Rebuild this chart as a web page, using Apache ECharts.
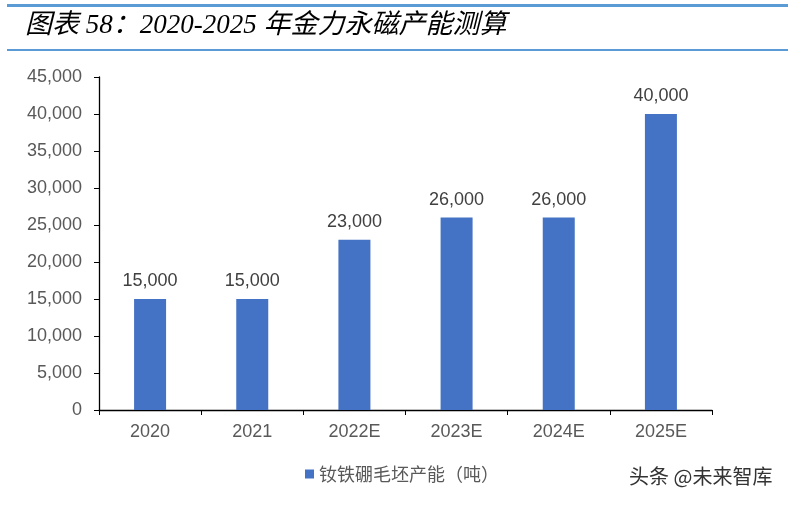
<!DOCTYPE html>
<html><head><meta charset="utf-8">
<script src="https://cdn.jsdelivr.net/npm/echarts@6/dist/echarts.min.js"></script>
<style>html,body{margin:0;padding:0;background:#fff}#c{width:788px;height:506px}</style>
</head><body><div id="c"></div>
<script>
const categories = ['2020','2021','2022E','2023E','2024E','2025E'];
const capacity = [15000,15000,23000,26000,26000,40000];
const yTicks = {min:0,max:45000,interval:5000};
const seriesName = '钕铁硼毛坯产能（吨）';
const titleText = '图表 58：2020-2025 年金力永磁产能测算';

const chart = echarts.init(document.getElementById('c'));
const fmt = v => Number(v).toLocaleString('en-US');
chart.setOption({
  animation:false,
  backgroundColor:'#fff',
  graphic:[
    {type:'rect',shape:{x:7,y:4,width:781,height:3},style:{fill:'#5b9bd5'}},
    {type:'rect',shape:{x:7,y:49,width:781,height:2},style:{fill:'#5b9bd5'}},
    {type:'text',left:25,top:12,style:{text:titleText,font:'italic 27px "Liberation Serif","Noto Sans CJK SC"',fill:'#000'}},
    {type:'text',left:629,top:466,style:{text:'头条 @未来智库',font:'20px "Noto Sans CJK SC"',fill:'#333'}}
  ],
  legend:{bottom:18,left:300,itemWidth:9,itemHeight:9,icon:'rect',itemGap:6,
    textStyle:{color:'#595959',fontSize:18,fontFamily:'"Noto Sans CJK SC"'},data:[seriesName]},
  grid:{left:99,right:76,top:77,bottom:96},
  xAxis:{type:'category',data:categories,
    axisLine:{lineStyle:{color:'#000',width:1.3}},
    axisTick:{show:true,length:5,lineStyle:{color:'#000'}},
    axisLabel:{color:'#595959',fontSize:18,fontFamily:'"Liberation Sans",Arial',margin:13}},
  yAxis:{type:'value',min:yTicks.min,max:yTicks.max,interval:yTicks.interval,
    axisLine:{show:true,lineStyle:{color:'#000',width:1.3}},
    axisTick:{show:true,length:5,lineStyle:{color:'#000'}},
    splitLine:{show:false},
    axisLabel:{color:'#595959',fontSize:18,fontFamily:'"Liberation Sans",Arial',margin:17,formatter:fmt}},
  series:[{name:seriesName,type:'bar',data:capacity,barWidth:32,
    itemStyle:{color:'#4472c4'},
    label:{show:true,position:'top',distance:9,color:'#404040',fontSize:18,fontFamily:'"Liberation Sans",Arial',formatter:p=>fmt(p.value)}}]
});
</script></body></html>
